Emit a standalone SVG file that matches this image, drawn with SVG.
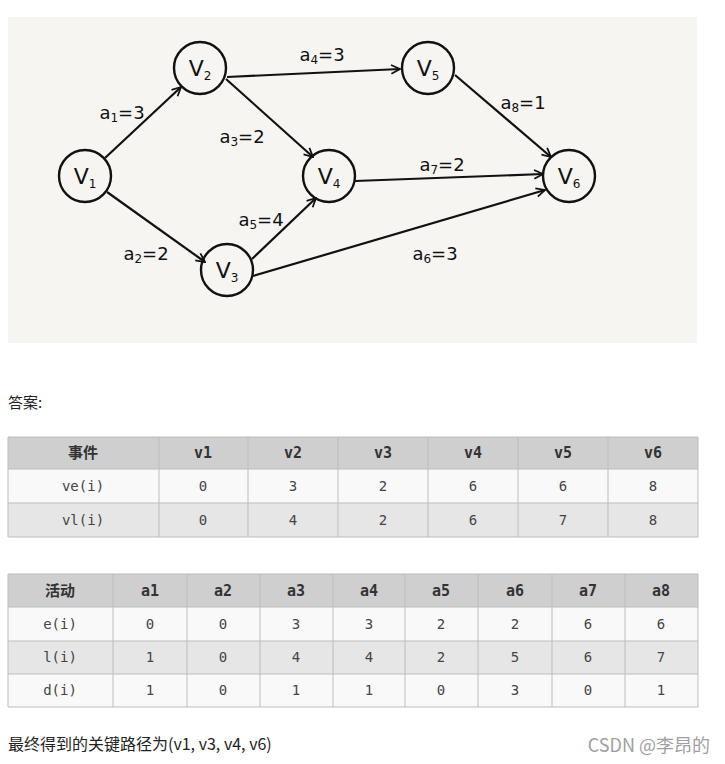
<svg xmlns="http://www.w3.org/2000/svg" width="725" height="764" viewBox="0 0 725 764">
<style>
.node circle{fill:none;stroke:#111;stroke-width:2.4}
.nl{font-family:"DejaVu Sans",sans-serif;font-size:22px;fill:#111;text-anchor:middle}
.el{font-family:"DejaVu Sans",sans-serif;font-size:18px;fill:#111;text-anchor:middle}
.sub{font-size:12px}
.edge{stroke:#111;stroke-width:2.2;fill:none;marker-end:url(#arr)}
.hd{fill:#cfcfcf}
.r1{fill:#f9f9f9}
.r2{fill:#e6e6e6}
.grid{stroke:#bdbdbd;stroke-width:1;fill:none}
.th{font-family:"DejaVu Sans Mono","Noto Sans CJK SC",monospace;font-weight:bold;font-size:15px;fill:#333;text-anchor:middle}
.td{font-family:"DejaVu Sans Mono","Noto Sans CJK SC",monospace;font-size:14px;fill:#444;text-anchor:middle}
.p{font-family:"Noto Sans CJK SC","Noto Sans",sans-serif;font-size:15px;fill:#222}
</style>
<defs>
<marker id="arr" viewBox="0 0 10 10" refX="9" refY="5" markerWidth="5" markerHeight="5" orient="auto" markerUnits="strokeWidth">
<path d="M1,1 L9,5 L1,9" fill="none" stroke="#111" stroke-width="1.6"/>
</marker>
</defs>
<rect x="0" y="0" width="725" height="764" fill="#ffffff"/>
<rect x="8" y="17" width="689" height="326" fill="#f6f5f1"/>

<g id="connectors">
<line class="edge" x1="105" y1="158" x2="181" y2="87"/>
<line class="edge" x1="107" y1="192" x2="205" y2="262"/>
<line class="edge" x1="227" y1="77" x2="400" y2="69"/>
<line class="edge" x1="226" y1="79" x2="313" y2="157"/>
<line class="edge" x1="252" y1="259" x2="316" y2="198"/>
<line class="edge" x1="253" y1="276" x2="545" y2="190"/>
<line class="edge" x1="355" y1="181" x2="543" y2="174"/>
<line class="edge" x1="455" y1="75" x2="551" y2="157"/>
</g>

<g id="edge-labels">
<text class="el" x="122" y="119">a<tspan class="sub" dy="3">1</tspan><tspan dy="-3">=3</tspan></text>
<text class="el" x="146" y="260">a<tspan class="sub" dy="3">2</tspan><tspan dy="-3">=2</tspan></text>
<text class="el" x="242" y="143">a<tspan class="sub" dy="3">3</tspan><tspan dy="-3">=2</tspan></text>
<text class="el" x="322" y="61">a<tspan class="sub" dy="3">4</tspan><tspan dy="-3">=3</tspan></text>
<text class="el" x="261" y="226">a<tspan class="sub" dy="3">5</tspan><tspan dy="-3">=4</tspan></text>
<text class="el" x="435" y="260">a<tspan class="sub" dy="3">6</tspan><tspan dy="-3">=3</tspan></text>
<text class="el" x="442" y="171">a<tspan class="sub" dy="3">7</tspan><tspan dy="-3">=2</tspan></text>
<text class="el" x="523" y="109">a<tspan class="sub" dy="3">8</tspan><tspan dy="-3">=1</tspan></text>
</g>

<g id="v1" class="node"><circle cx="85" cy="176" r="26"/><text class="nl" x="85" y="184">V<tspan class="sub" dy="4">1</tspan></text></g>
<g id="v2" class="node"><circle cx="200" cy="68" r="26"/><text class="nl" x="200" y="76">V<tspan class="sub" dy="4">2</tspan></text></g>
<g id="v3" class="node"><circle cx="227" cy="270" r="26"/><text class="nl" x="227" y="278">V<tspan class="sub" dy="4">3</tspan></text></g>
<g id="v4" class="node"><circle cx="329" cy="176" r="26"/><text class="nl" x="329" y="184">V<tspan class="sub" dy="4">4</tspan></text></g>
<g id="v5" class="node"><circle cx="428" cy="68" r="26"/><text class="nl" x="428" y="76">V<tspan class="sub" dy="4">5</tspan></text></g>
<g id="v6" class="node"><circle cx="569" cy="176" r="26"/><text class="nl" x="569" y="184">V<tspan class="sub" dy="4">6</tspan></text></g>

<text class="p" x="8" y="408">答案:</text>

<g id="table1">
<rect class="hd" x="8" y="437" width="690" height="32"/>
<rect class="r1" x="8" y="469" width="690" height="34"/>
<rect class="r2" x="8" y="503" width="690" height="34"/>
<path class="grid" d="M8,437H698M8,469H698M8,503H698M8,537H698M8,437V537M159,437V537M248,437V537M338,437V537M428,437V537M518,437V537M608,437V537M698,437V537"/>
<text class="th" x="83" y="458">事件</text>
<text class="th" x="203" y="458">v1</text>
<text class="th" x="293" y="458">v2</text>
<text class="th" x="383" y="458">v3</text>
<text class="th" x="473" y="458">v4</text>
<text class="th" x="563" y="458">v5</text>
<text class="th" x="653" y="458">v6</text>
<text class="td" x="83" y="491">ve(i)</text>
<text class="td" x="203" y="491">0</text>
<text class="td" x="293" y="491">3</text>
<text class="td" x="383" y="491">2</text>
<text class="td" x="473" y="491">6</text>
<text class="td" x="563" y="491">6</text>
<text class="td" x="653" y="491">8</text>
<text class="td" x="83" y="525">vl(i)</text>
<text class="td" x="203" y="525">0</text>
<text class="td" x="293" y="525">4</text>
<text class="td" x="383" y="525">2</text>
<text class="td" x="473" y="525">6</text>
<text class="td" x="563" y="525">7</text>
<text class="td" x="653" y="525">8</text>
</g>

<g id="table2">
<rect class="hd" x="8" y="574" width="690" height="33"/>
<rect class="r1" x="8" y="607" width="690" height="34"/>
<rect class="r2" x="8" y="641" width="690" height="33"/>
<rect class="r1" x="8" y="674" width="690" height="33"/>
<path class="grid" d="M8,574H698M8,607H698M8,641H698M8,674H698M8,707H698M8,574V707M113,574V707M187,574V707M260,574V707M333,574V707M405,574V707M478,574V707M552,574V707M625,574V707M698,574V707"/>
<text class="th" x="60" y="596">活动</text>
<text class="th" x="150" y="596">a1</text>
<text class="th" x="223" y="596">a2</text>
<text class="th" x="296" y="596">a3</text>
<text class="th" x="369" y="596">a4</text>
<text class="th" x="441" y="596">a5</text>
<text class="th" x="515" y="596">a6</text>
<text class="th" x="588" y="596">a7</text>
<text class="th" x="661" y="596">a8</text>
<text class="td" x="60" y="629">e(i)</text>
<text class="td" x="150" y="629">0</text>
<text class="td" x="223" y="629">0</text>
<text class="td" x="296" y="629">3</text>
<text class="td" x="369" y="629">3</text>
<text class="td" x="441" y="629">2</text>
<text class="td" x="515" y="629">2</text>
<text class="td" x="588" y="629">6</text>
<text class="td" x="661" y="629">6</text>
<text class="td" x="60" y="662">l(i)</text>
<text class="td" x="150" y="662">1</text>
<text class="td" x="223" y="662">0</text>
<text class="td" x="296" y="662">4</text>
<text class="td" x="369" y="662">4</text>
<text class="td" x="441" y="662">2</text>
<text class="td" x="515" y="662">5</text>
<text class="td" x="588" y="662">6</text>
<text class="td" x="661" y="662">7</text>
<text class="td" x="60" y="695">d(i)</text>
<text class="td" x="150" y="695">1</text>
<text class="td" x="223" y="695">0</text>
<text class="td" x="296" y="695">1</text>
<text class="td" x="369" y="695">1</text>
<text class="td" x="441" y="695">0</text>
<text class="td" x="515" y="695">3</text>
<text class="td" x="588" y="695">0</text>
<text class="td" x="661" y="695">1</text>
</g>

<text class="p" x="8" y="750" style="font-size:16px">最终得到的关键路径为(v1, v3, v4, v6)</text>
<text x="710" y="752" text-anchor="end" style="font-family:'Noto Sans CJK SC','Noto Sans',sans-serif;font-size:18px;fill:#a0a0a0">CSDN @李昂的</text>
</svg>
